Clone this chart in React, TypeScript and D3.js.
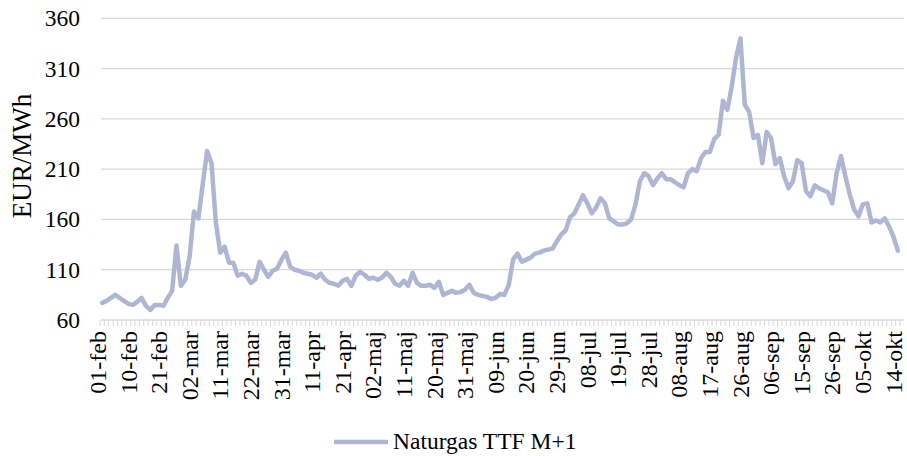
import React from "react"
import * as d3 from "d3"

// Naturgas TTF M+1, EUR/MWh, one value per trading day (01-feb .. 14-okt)
const ttfM1 = [
  77, 79, 82, 85, 82, 79, 76, 75, 78, 82,
  74, 70, 75, 75, 74, 82, 89, 134, 94, 100,
  123, 168, 161, 195, 228, 216, 157, 127, 133, 117,
  117, 104, 106, 104, 97, 100, 118, 110, 103, 109,
  111, 120, 127, 113, 110, 109, 107, 106, 105, 102,
  106, 100, 97, 96, 94, 99, 101, 94, 104, 108,
  105, 101, 102, 100, 102, 107, 103, 96, 94, 99,
  94, 107, 97, 94, 94, 95, 92, 98, 85, 87,
  89, 87, 88, 90, 95, 87, 85, 84, 83, 81,
  82, 86, 85, 95, 120, 126, 118, 120, 122, 126,
  127, 129, 130, 131, 138, 145, 149, 162, 166, 175,
  184, 176, 166, 172, 181, 176, 161, 158, 155, 155,
  156, 160, 175, 198, 206, 203, 194, 201, 206, 200,
  200, 197, 194, 192, 206, 210, 208, 221, 227, 227,
  240, 244, 278, 269, 292, 321, 340, 274, 267, 241,
  244, 216, 247, 241, 215, 221, 203, 191, 198, 219,
  216, 188, 183, 194, 191, 189, 187, 176, 206, 223,
  203, 185, 170, 163, 175, 176, 157, 159, 157, 161,
  153, 143, 129
]

// shown every 7th trading day
const tickLabels = [
  "01-feb", "10-feb", "21-feb", "02-mar", "11-mar", "22-mar", "31-mar",
  "11-apr", "21-apr", "02-maj", "11-maj", "20-maj", "31-maj", "09-jun",
  "20-jun", "29-jun", "08-jul", "19-jul", "28-jul", "08-aug", "17-aug",
  "26-aug", "06-sep", "15-sep", "26-sep", "05-okt", "14-okt"
]
const labelStep = 7

const yTicks = [60, 110, 160, 210, 260, 310, 360]

const seriesName = "Naturgas TTF M+1"
const yTitle = "EUR/MWh"

export default function App() {
  const width = 907
  const height = 456
  const plotLeft = 101
  const plotRight = 904
  const plotTop = 18.3
  const plotBottom = 320
  const font = "Liberation Serif, DejaVu Serif, serif"
  const lineColor = "#aeb6d3"
  const gridColor = "#d9d9d9"
  const txt = { fontFamily: font }

  // category band, slightly narrower than the gridlines on the right
  const x = d3.scaleBand()
    .domain(d3.range(ttfM1.length))
    .range([plotLeft - 1, plotRight - 4])
    .paddingInner(0)
    .paddingOuter(0)
  const xc = i => x(i) + x.bandwidth() / 2

  const y = d3.scaleLinear().domain([60, 360]).range([plotBottom, plotTop])

  const line = d3.line()
    .x((d, i) => xc(i))
    .y(d => y(d))

  const boundaries = d3.range(ttfM1.length + 1).map(i =>
    i < ttfM1.length ? x(i) : x(i - 1) + x.bandwidth())

  return (
    <svg width={width} height={height} viewBox={`0 0 ${width} ${height}`}
      style={{ position: "absolute", left: 0, top: 0, background: "#fff" }}>
      {/* gridlines */}
      {yTicks.map(t => (
        <line key={t} x1={plotLeft} x2={plotRight} y1={y(t)} y2={y(t)}
          stroke={gridColor} strokeWidth={1.3} />
      ))}
      {/* x axis tick marks at category boundaries */}
      <g stroke={gridColor} strokeWidth={1}>
        {boundaries.map((b, i) => (
          <line key={i} x1={b} x2={b} y1={plotBottom} y2={plotBottom + 6} />
        ))}
      </g>
      {/* y tick labels */}
      {yTicks.map(t => (
        <text key={t} x={80} y={y(t)} dy="0.34em" textAnchor="end"
          fontSize={23.5} fill="#000" style={txt}>{t}</text>
      ))}
      {/* y title */}
      <text transform={`translate(31,156) rotate(-90)`} textAnchor="middle"
        fontSize={27} fill="#000" style={txt}>{yTitle}</text>
      {/* x tick labels */}
      {tickLabels.map((lab, k) => (
        <text key={lab} transform={`translate(${xc(k * labelStep)},331) rotate(-90)`}
          dy="0.16em" textAnchor="end" fontSize={24} fill="#000" style={txt}>{lab}</text>
      ))}
      {/* series */}
      <path d={line(ttfM1)} fill="none" stroke={lineColor} strokeWidth={4.5}
        strokeLinejoin="round" strokeLinecap="round" />
      {/* legend */}
      <line x1={334} x2={388} y1={442} y2={442} stroke={lineColor} strokeWidth={4.5} />
      <text x={393} y={449} fontSize={23.5} fill="#000" style={txt}>{seriesName}</text>
    </svg>
  )
}
